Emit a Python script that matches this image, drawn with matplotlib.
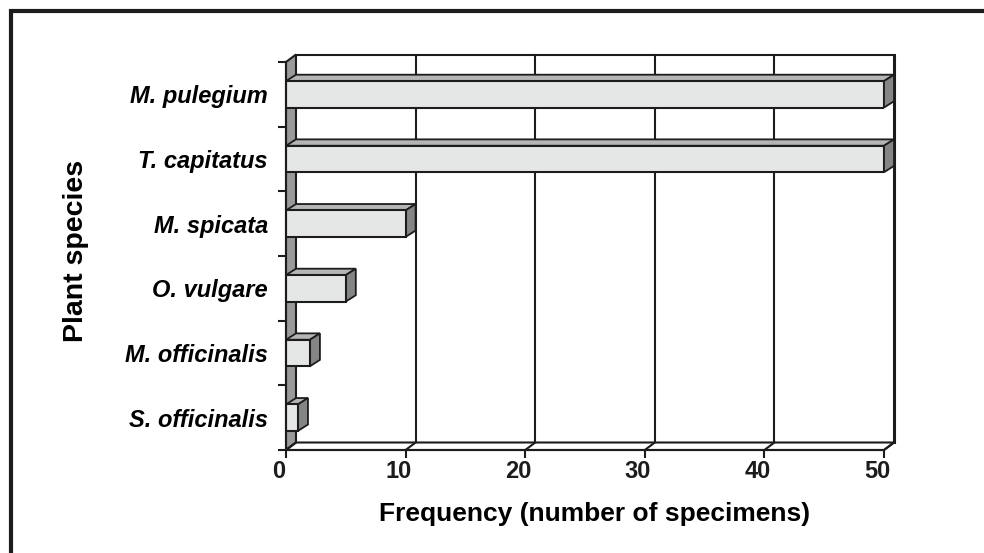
import numpy as np
import matplotlib
matplotlib.use("Agg")
from matplotlib import pyplot as plt
from matplotlib.patches import Polygon, Rectangle

species = ['S. officinalis', 'M. officinalis', 'O. vulgare',
           'M. spicata', 'T. capitatus', 'M. pulegium']
counts = [1, 2, 5, 10, 50, 50]
xticks = [0, 10, 20, 30, 40, 50]

plt.rcParams['font.family'] = ['Liberation Sans', 'DejaVu Sans']
ink = '#1c1c1c'

W, H = 984, 553
fig = plt.figure(figsize=(W/100, H/100), dpi=100)
ax = fig.add_axes([286/W, 103/H, 598/W, 388/H])
xmax = 50
ymin, ymax = -0.5, len(species) - 0.5
ax.set_xlim(0, xmax)
ax.set_ylim(ymin, ymax)

# depth of the fake 3d box in data units
dx = xmax * 10 / 598
dy = (ymax - ymin) * 7.5 / 388

# back wall with gridlines
ax.add_patch(Polygon([(dx, ymin+dy), (xmax+dx, ymin+dy), (xmax+dx, ymax+dy), (dx, ymax+dy)],
                     closed=True, facecolor='white', edgecolor='none', clip_on=False, zorder=1))
for t in xticks[1:]:
    ax.plot([t+dx, t+dx], [ymin+dy, ymax+dy], color=ink, lw=1.5 if t < xmax else 2.2,
            clip_on=False, zorder=2)
ax.plot([dx, xmax+dx], [ymax+dy, ymax+dy], color=ink, lw=1.5, clip_on=False, zorder=2)

# left side wall
ax.add_patch(Polygon([(0, ymin), (dx, ymin+dy), (dx, ymax+dy), (0, ymax)], closed=True,
                     facecolor='#9a9a9a', edgecolor=ink, lw=1.5, clip_on=False, zorder=3))
# floor
ax.add_patch(Polygon([(0, ymin), (xmax, ymin), (xmax+dx, ymin+dy), (dx, ymin+dy)], closed=True,
                     facecolor='white', edgecolor=ink, lw=1.5, clip_on=False, zorder=3))
for t in xticks:
    ax.plot([t, t+dx], [ymin, ymin+dy], color=ink, lw=1.5, clip_on=False, zorder=3)

# bars
h = 0.41
bdy = dy * 0.85
ypos = np.arange(len(species))
for y, v in zip(ypos, counts):
    top = y + h/2
    bot = y - h/2
    ax.add_patch(Polygon([(0, top), (v, top), (v+dx, top+bdy), (dx, top+bdy)], closed=True,
                         facecolor='#b5b5b5', edgecolor=ink, lw=1.3, clip_on=False, zorder=4))
    ax.add_patch(Polygon([(v, bot), (v+dx, bot+bdy), (v+dx, top+bdy), (v, top)], closed=True,
                         facecolor='#858585', edgecolor=ink, lw=1.3, clip_on=False, zorder=4))
ax.barh(ypos, counts, height=h, color='#e5e7e7', edgecolor=ink, lw=1.5, zorder=5)

# axes lines and ticks
for s in ['top', 'right']:
    ax.spines[s].set_visible(False)
for s in ['left', 'bottom']:
    ax.spines[s].set_color(ink)
    ax.spines[s].set_linewidth(1.5)
    ax.spines[s].set_zorder(6)
ax.set_xticks(xticks)
ax.set_xticklabels([])
# tick numbers sit a little left of their ticks, as in the original
for t in xticks:
    ax.annotate(str(t), xy=(t, ymin), xytext=(-5, -7.5), textcoords='offset points',
                ha='center', va='top', fontsize=17, fontweight='bold', color=ink)
ax.set_yticks(ypos)
ax.set_yticklabels(species, fontsize=17, fontweight='bold', fontstyle='italic')
ax.set_yticks(np.arange(ymin, ymax + 0.01, 1.0), minor=True)
ax.tick_params(axis='y', which='major', length=0, pad=13)
ax.tick_params(axis='y', which='minor', length=6, width=1.5, color=ink)
ax.tick_params(axis='x', length=6, width=1.5, color=ink, pad=3)
ax.set_xlabel('Frequency (number of specimens)', fontsize=19, fontweight='bold')
ax.xaxis.set_label_coords(0.516, -0.133)
ax.set_ylabel('Plant species', fontsize=20.5, fontweight='bold', labelpad=26)
ax.yaxis.label.set_y(0.513)

# outer frame
fig.add_artist(Rectangle((11/W, -0.1), 1.2, 1 - 11/H + 0.1, transform=fig.transFigure,
                         facecolor='none', edgecolor=ink, lw=3))

fig.savefig('out.png', dpi=100)
